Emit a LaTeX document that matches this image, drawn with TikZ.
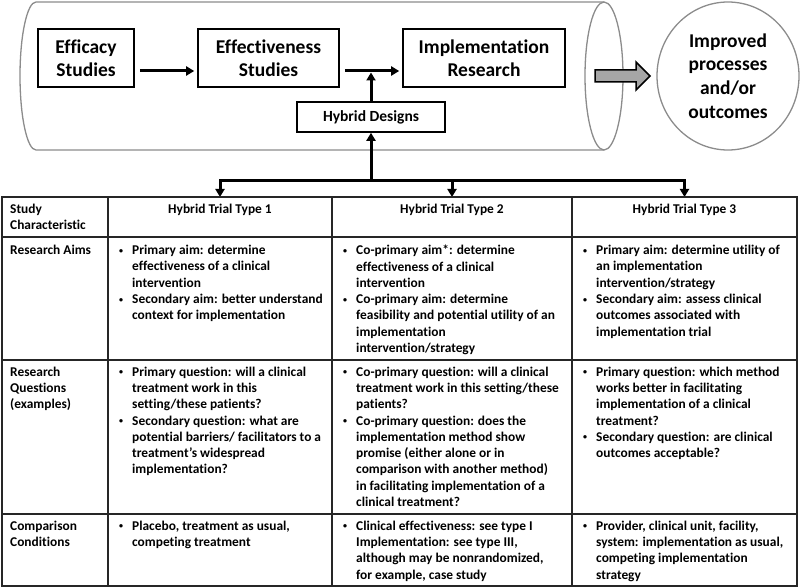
\documentclass[tikz,border=0pt]{standalone}
\usepackage{fontspec}
\setmainfont{Carlito}[Ligatures=NoCommon]
\usetikzlibrary{arrows.meta,shapes.geometric,positioning}
\definecolor{cylgray}{HTML}{8C8C8C}
\definecolor{arrgray}{HTML}{A6A6A6}
\definecolor{rulecol}{HTML}{262626}
\newcommand\bitem{\makebox[14pt][l]{\hspace{1pt}\raisebox{1.5pt}{\fontsize{8}{8}\selectfont\textbullet}}}
\newcommand\bcont{\hspace*{14pt}}

\begin{document}
\begin{tikzpicture}[x=1pt,y=-1pt,
    stage/.style={draw,line width=1.6pt,inner sep=0pt,align=center,font=\fontsize{19.5}{23.5}\selectfont\bfseries},
    flow/.style={line width=3pt,-{Triangle[length=8pt,width=9pt]}},
    tabline/.style={draw=rulecol,line width=1.4pt},
    tabcell/.style={anchor=north west,inner sep=0pt,align=left,font=\fontsize{13.4}{16.3}\selectfont\bfseries},
    colhead/.style={anchor=north,inner sep=0pt,font=\fontsize{13.4}{16.3}\selectfont\bfseries}]
  \useasboundingbox (0,0) rectangle (800,588);

  % the pipeline cylinder
  \draw[cylgray,line width=1.3pt,fill=white] (604,2) -- (36,2)
    arc[start angle=270,end angle=90,x radius=16,y radius=74] -- (604,150);
  \draw[cylgray,line width=1.3pt] (604,76) ellipse[x radius=19,y radius=74];

  \node[stage,minimum width=96pt,minimum height=58pt](effic) at (86,58){Efficacy\\Studies};
  \node[stage,minimum width=141pt,minimum height=58pt](effec) at (268.5,58){Effectiveness\\Studies};
  \node[stage,minimum width=162pt,minimum height=58pt](impl) at (484,58){Implementation\\Research};
  \node[stage,minimum width=148pt,minimum height=30pt,font=\fontsize{15.5}{18}\selectfont\bfseries](hyb) at (371,117){Hybrid Designs};
  \node[draw=cylgray,line width=1.3pt,ellipse,minimum width=142pt,minimum height=148pt,inner sep=0pt,
    align=center,font=\fontsize{19.5}{23.8}\selectfont\bfseries](outc) at (728,76){Improved\\processes\\and/or\\outcomes};

  \coordinate (a2) at ([yshift=-13pt]impl.west);
  \draw[flow,shorten <=5pt,shorten >=3pt] ([yshift=-13pt]effic.east) -- ([yshift=-13pt]effec.west);
  \draw[flow,shorten <=5pt,shorten >=3pt] ([yshift=-13pt]effec.east) -- (a2);
  \draw[flow,shorten >=1.5pt] (hyb.north) -- (hyb.north |- a2);

  % block arrow into the outcomes
  \draw[line width=1.5pt,fill=arrgray] (595,70) -- (636,70) -- (636,62) -- (650,76)
    -- (636,90) -- (636,82) -- (595,82) -- cycle;

  % branches down to the table
  \coordinate (junc) at (371,181);
  \coordinate (b1) at (220,181);
  \coordinate (b2) at (452,181);
  \coordinate (b3) at (684.5,181);
  \coordinate (t1) at (220,197);
  \coordinate (t2) at (452,197);
  \coordinate (t3) at (684.5,197);
  \draw[line width=3pt,line cap=rect] (b1) -- (b3);
  \draw[flow] (junc) -- (hyb.south);
  \draw[flow] (b1) -- (t1);
  \draw[flow] (b2) -- (t2);
  \draw[flow] (b3) -- (t3);

  % table
  \draw[tabline,line width=2pt] (2,197) rectangle (797,586);
  \draw[tabline] (2,237) -- (797,237) (2,360) -- (797,360) (2,514) -- (797,514)
    (108,197) -- (108,586) (332,197) -- (332,586) (572,197) -- (572,586);

  \node[tabcell](c00) at (10,204){Study\\Characteristic};
  \node[colhead](h1) at (220,204){Hybrid Trial Type 1};
  \node[colhead](h2) at (452,204){Hybrid Trial Type 2};
  \node[colhead](h3) at (684.5,204){Hybrid Trial Type 3};

  \node[tabcell](c10) at (10,245){Research Aims};
  \node[tabcell](c11) at (118,245){\bitem Primary aim: determine\\\bcont effectiveness of a clinical\\\bcont intervention\\
    \bitem Secondary aim: better understand\\\bcont context for implementation};
  \node[tabcell](c12) at (342,245){\bitem Co-primary aim*: determine\\\bcont effectiveness of a clinical\\\bcont intervention\\
    \bitem Co-primary aim: determine\\\bcont feasibility and potential utility of an\\\bcont implementation\\\bcont intervention/strategy};
  \node[tabcell](c13) at (582,245){\bitem Primary aim: determine utility of\\\bcont an implementation\\\bcont intervention/strategy\\
    \bitem Secondary aim: assess clinical\\\bcont outcomes associated with\\\bcont implementation trial};

  \node[tabcell](c20) at (10,366.5){Research\\Questions\\(examples)};
  \node[tabcell](c21) at (118,366.5){\bitem Primary question: will a clinical\\\bcont treatment work in this\\\bcont setting/these patients?\\
    \bitem Secondary question: what are\\\bcont potential barriers/ facilitators to a\\\bcont treatment’s widespread\\\bcont implementation?};
  \node[tabcell](c22) at (342,366.5){\bitem Co-primary question: will a clinical\\\bcont treatment work in this setting/these\\\bcont patients?\\
    \bitem Co-primary question: does the\\\bcont implementation method show\\\bcont promise (either alone or in\\\bcont comparison with another method)\\
    \bcont in facilitating implementation of a\\\bcont clinical treatment?};
  \node[tabcell](c23) at (582,366.5){\bitem Primary question: which method\\\bcont works better in facilitating\\\bcont implementation of a clinical\\\bcont treatment?\\
    \bitem Secondary question: are clinical\\\bcont outcomes acceptable?};

  \node[tabcell](c30) at (10,520.5){Comparison\\Conditions};
  \node[tabcell](c31) at (118,520.5){\bitem Placebo, treatment as usual,\\\bcont competing treatment};
  \node[tabcell](c32) at (342,520.5){\bitem Clinical effectiveness: see type I\\\bcont Implementation: see type III,\\\bcont although may be nonrandomized,\\\bcont for example, case study};
  \node[tabcell](c33) at (582,520.5){\bitem Provider, clinical unit, facility,\\\bcont system: implementation as usual,\\\bcont competing implementation\\\bcont strategy};
\end{tikzpicture}
\end{document}
